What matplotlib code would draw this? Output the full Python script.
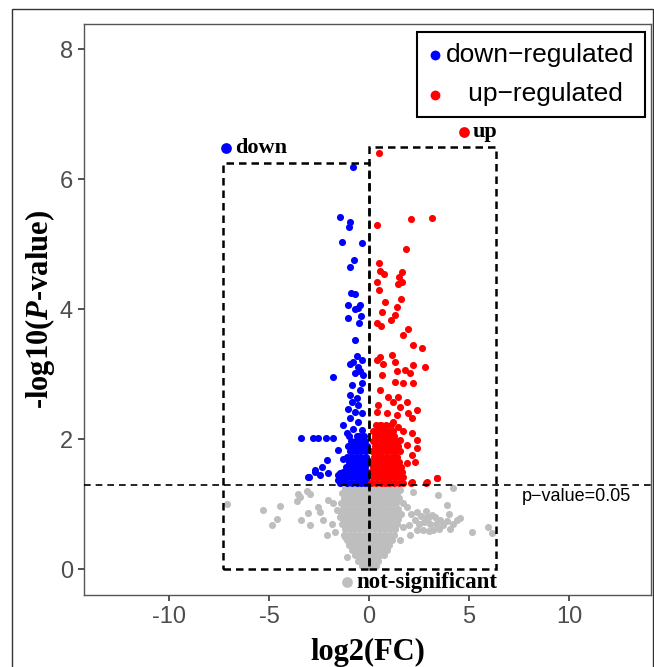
import numpy as np
import matplotlib
matplotlib.use('Agg')
import matplotlib.pyplot as plt
from matplotlib.patches import Rectangle

plt.rcParams['axes.unicode_minus'] = False
plt.rcParams['mathtext.fontset'] = 'custom'
plt.rcParams['mathtext.rm'] = 'Liberation Serif:bold'
plt.rcParams['mathtext.it'] = 'Liberation Serif:italic:bold'

# punti sparsi down-regulated (log2FC, -log10 p)
down_x = [-0.82, -1.43, -0.95, -1.00, -1.35, -0.33, -0.73, -0.93, -0.92, -0.70,
          -1.03, -0.45, -0.70, -0.53, -1.03, -0.42, -0.48, -0.68, -0.62, -0.78,
          -0.37, -0.95, -0.53, -0.45, -0.70, -0.28, -1.78, -0.87, -0.37, -0.45,
          -0.95, -0.62, -0.87, -0.53, -1.03, -0.70, -0.37, -1.28, -0.95, -0.53,
          -0.78, -0.37, -1.12, -0.62, -3.42, -2.82, -2.53, -2.15, -1.82, -1.53,
          -1.28, -2.12, -2.37, -2.70, -2.98, -1.45, -1.53, -3.03, -2.70, -2.03,
          -2.45, -1.53, -1.28]
down_y = [6.18, 5.42, 5.34, 5.26, 5.03, 5.01, 4.75, 4.64, 4.24, 4.23,
          4.07, 4.06, 4.00, 4.01, 3.86, 3.89, 3.78, 3.52, 3.28, 3.19,
          3.22, 3.16, 3.11, 3.04, 3.01, 2.98, 2.96, 2.83, 2.86, 2.75,
          2.68, 2.63, 2.57, 2.52, 2.47, 2.42, 2.40, 2.22, 2.32, 2.27,
          2.16, 2.14, 2.09, 2.04, 2.01, 2.01, 2.01, 2.01, 2.01, 1.83,
          1.70, 1.68, 1.57, 1.52, 1.42, 1.47, 1.37, 1.42, 1.50, 1.48,
          1.45, 1.45, 1.34]

# zona densa down-regulated: righe (y) con i relativi x
down_dense_y = [1.33, 1.41, 1.49, 1.57, 1.65, 1.73, 1.81, 1.89, 1.97, 2.05]
down_dense_x = [[-1.45, -1.10, -0.85, -0.62, -0.40, -0.18, -0.05],
                [-1.35, -1.18, -0.95, -0.72, -0.50, -0.28, -0.08],
                [-1.30, -1.05, -0.82, -0.60, -0.35, -0.12],
                [-1.15, -0.90, -0.68, -0.45, -0.20],
                [-1.00, -0.75, -0.52, -0.28, -0.06],
                [-1.10, -0.85, -0.60, -0.38, -0.15],
                [-0.95, -0.70, -0.47, -0.22],
                [-1.05, -0.80, -0.55, -0.30, -0.08],
                [-0.90, -0.65, -0.42, -0.18],
                [-1.00, -0.50, -0.25]]

# punti sparsi up-regulated
up_x = [0.48, 0.42, 2.12, 3.15, 1.85, 0.50, 0.55, 0.75, 1.63, 1.52,
        0.38, 0.52, 1.63, 1.47, 0.82, 1.58, 1.38, 1.30, 0.63, 0.38,
        0.58, 1.08, 1.97, 1.68, 0.55, 0.38, 1.13, 1.30, 2.22, 2.63,
        0.72, 1.38, 1.80, 2.22, 2.80, 0.63, 1.30, 2.05, 1.72, 2.22,
        0.55, 0.97, 1.47, 1.22, 0.47, 1.55, 1.88, 2.38, 0.38, 0.88,
        1.38, 1.97, 2.13, 0.55, 1.22, 1.47, 0.72, 1.72, 2.13, 0.38,
        1.05, 1.55, 2.38, 1.88, 1.30, 0.55, 2.38, 2.13, 2.30, 1.88,
        1.72, 2.13, 2.88, 3.38, 2.08, 2.85, 3.42]
up_y = [6.40, 5.30, 5.39, 5.40, 4.93, 4.71, 4.59, 4.54, 4.57, 4.49,
        4.42, 4.29, 4.42, 4.38, 4.11, 4.15, 4.03, 3.91, 3.96, 3.79,
        3.74, 3.83, 3.69, 3.60, 3.27, 3.22, 3.29, 3.19, 3.45, 3.40,
        3.16, 3.04, 3.06, 3.14, 3.11, 2.98, 2.88, 3.01, 2.86, 2.86,
        2.75, 2.65, 2.65, 2.57, 2.52, 2.50, 2.57, 2.45, 2.42, 2.40,
        2.37, 2.40, 2.32, 2.22, 2.27, 2.19, 2.14, 2.12, 2.09, 2.04,
        2.04, 1.98, 1.98, 1.91, 1.91, 1.91, 1.86, 1.75, 1.65, 1.63,
        1.42, 1.34, 1.34, 1.40, 1.33, 1.33, 1.40]

up_dense_y = [1.33, 1.41, 1.49, 1.57, 1.65, 1.73, 1.81, 1.89, 1.97, 2.05, 2.13, 2.21]
up_dense_x = [[0.12, 0.35, 0.58, 0.80, 1.02, 1.25, 1.48, 1.70],
              [0.20, 0.45, 0.68, 0.90, 1.12, 1.35, 1.58],
              [0.12, 0.32, 0.55, 0.78, 1.00, 1.22, 1.45, 1.65],
              [0.22, 0.45, 0.68, 0.92, 1.15, 1.38, 1.60],
              [0.15, 0.38, 0.60, 0.82, 1.05, 1.28, 1.50],
              [0.25, 0.48, 0.72, 0.95, 1.18, 1.42],
              [0.15, 0.40, 0.62, 0.85, 1.08, 1.32, 1.55],
              [0.28, 0.52, 0.75, 0.98, 1.20, 1.45],
              [0.18, 0.42, 0.65, 0.88, 1.12, 1.35],
              [0.30, 0.55, 0.78, 1.00, 1.25],
              [0.20, 0.45, 0.70, 0.95, 1.20],
              [0.35, 0.60, 0.85, 1.10]]

# non significativi sparsi
ns_x = [-7.12, -5.32, -4.45, -4.87, -4.58, -3.62, -3.45, -3.12, -2.95, -3.53,
        -3.40, -3.03, -2.95, -2.53, -2.45, -2.28, -2.12, -1.87, -1.70, -2.03,
        -1.78, -1.62, -1.45, -1.12, -1.20,
        1.55, 2.22, 1.72, 2.38, 2.88, 3.05, 3.55, 3.22, 3.88, 4.22,
        3.47, 4.38, 4.55, 4.22, 5.13, 5.97, 6.13, 1.72, 2.05, 2.38,
        1.55, 2.60, 2.75, 2.95, 3.15, 3.35, 3.50, 3.70, 3.90, 4.05,
        2.70, 3.00, 3.30, 2.50, 4.00, 2.85, 2.30, 2.10, 1.90, 2.00]
ns_y = [1.00, 0.91, 0.97, 0.68, 0.77, 1.04, 1.11, 1.20, 1.16, 1.16,
        0.75, 0.86, 0.68, 0.96, 0.88, 0.75, 0.52, 0.70, 0.57, 1.06,
        1.01, 0.91, 0.80, 0.19, 0.50,
        1.22, 1.19, 1.01, 0.88, 0.80, 0.70, 0.75, 0.60, 0.98, 1.24,
        1.14, 0.75, 0.78, 0.70, 0.57, 0.65, 0.55, 0.65, 0.52, 0.60,
        0.45, 0.82, 0.72, 0.78, 0.83, 0.70, 0.62, 0.68, 0.74, 0.62,
        0.60, 0.58, 0.80, 0.70, 0.85, 0.90, 0.75, 0.85, 0.95, 0.68]

# nucleo denso dei non significativi
ns_core_y = [1.25, 1.17, 1.09, 1.01, 0.93, 0.85, 0.77, 0.69,
             0.61, 0.53, 0.45, 0.37, 0.29, 0.21, 0.13, 0.05]
ns_core_x = [[-1.20, -0.95, -0.70, -0.45, -0.20, 0.05, 0.30, 0.55, 0.80, 1.05, 1.30],
             [-1.35, -1.10, -0.85, -0.60, -0.35, -0.10, 0.15, 0.40, 0.65, 0.90, 1.15, 1.40],
             [-1.25, -1.00, -0.75, -0.50, -0.25, 0.00, 0.25, 0.50, 0.75, 1.00, 1.25, 1.50],
             [-1.40, -1.15, -0.90, -0.65, -0.40, -0.15, 0.10, 0.35, 0.60, 0.85, 1.10, 1.35],
             [-1.30, -1.05, -0.80, -0.55, -0.30, -0.05, 0.20, 0.45, 0.70, 0.95, 1.20, 1.45],
             [-1.40, -1.15, -0.90, -0.65, -0.40, -0.15, 0.10, 0.35, 0.60, 0.85, 1.10, 1.35, 1.60],
             [-1.30, -1.05, -0.80, -0.55, -0.30, -0.05, 0.20, 0.45, 0.70, 0.95, 1.20, 1.45],
             [-1.35, -1.10, -0.85, -0.60, -0.35, -0.10, 0.15, 0.40, 0.65, 0.90, 1.15, 1.40],
             [-1.20, -0.95, -0.70, -0.45, -0.20, 0.05, 0.30, 0.55, 0.80, 1.05, 1.30],
             [-1.25, -1.00, -0.75, -0.50, -0.25, 0.00, 0.25, 0.50, 0.75, 1.00, 1.25],
             [-1.10, -0.85, -0.60, -0.35, -0.10, 0.15, 0.40, 0.65, 0.90, 1.15],
             [-1.00, -0.75, -0.50, -0.25, 0.00, 0.25, 0.50, 0.75, 1.00],
             [-0.85, -0.60, -0.35, -0.10, 0.15, 0.40, 0.65, 0.90],
             [-0.70, -0.45, -0.20, 0.05, 0.30, 0.55, 0.75],
             [-0.55, -0.30, -0.05, 0.20, 0.45],
             [-0.35, -0.10, 0.15, 0.35]]

# punti etichetta
label_names = ['down', 'up', 'not-significant']
label_x = [-7.15, 4.75, -1.10]
label_y = [6.48, 6.72, -0.20]

# riquadri tratteggiati (x0, x1, ytop)
box_down = (-7.30, 0.0, 6.25)
box_up = (0.0, 6.35, 6.49)
p_cut = 1.30

xticks = [-10, -5, 0, 5, 10]
yticks = [0, 2, 4, 6, 8]

c_down = '#0000FF'
c_up = '#FF0000'
c_ns = '#BEBEBE'


def flatten(rows_y, rows_x):
    xs, ys = [], []
    for y, row in zip(rows_y, rows_x):
        xs.extend(row)
        ys.extend([y] * len(row))
    return xs, ys


fig = plt.figure(figsize=(6.54, 6.67), dpi=100)
fig.patches.append(Rectangle((0.018, -0.01), 0.98, 0.9965, transform=fig.transFigure,
                             fill=False, edgecolor='#333333', lw=1.0))
ax = fig.add_axes([0.1284, 0.1079, 0.867, 0.856])

s_pt = 26
cx, cy = flatten(ns_core_y, ns_core_x)
ax.scatter(cx, cy, s=s_pt, color=c_ns, lw=0, zorder=2)
ax.scatter(ns_x, ns_y, s=s_pt, color=c_ns, lw=0, zorder=2)

dx, dy = flatten(down_dense_y, down_dense_x)
ax.scatter(dx, dy, s=s_pt, color=c_down, lw=0, zorder=3)
ax.scatter(down_x, down_y, s=s_pt, color=c_down, lw=0, zorder=3)

ux, uy = flatten(up_dense_y, up_dense_x)
ax.scatter(ux, uy, s=s_pt, color=c_up, lw=0, zorder=3)
ax.scatter(up_x, up_y, s=s_pt, color=c_up, lw=0, zorder=3)

# linea soglia
ax.axhline(p_cut, color='black', lw=1.2, dashes=(4, 3), zorder=4)
ax.text(7.65, 1.12, 'p\u2212value=0.05', fontsize=13, family='Liberation Sans',
        ha='left', va='center', zorder=5)

# riquadri
for x0, x1, ytop in [box_down, box_up]:
    ax.add_patch(Rectangle((x0, 0), x1 - x0, ytop, fill=False, edgecolor='black',
                           lw=1.8, ls=(0, (3, 2)), zorder=4))

# etichette
label_cols = [c_down, c_up, c_ns]
label_fs = [16, 16, 16.5]
for name, lx, ly, col, fs in zip(label_names, label_x, label_y, label_cols, label_fs):
    ax.scatter([lx], [ly], s=60, color=col, lw=0, zorder=5)
    ax.text(lx + 0.45, ly, name, fontsize=fs, family='Liberation Serif',
            fontweight='bold', ha='left', va='center', zorder=5)

# legenda
h1 = ax.scatter([], [], s=50, color=c_down, lw=0)
h2 = ax.scatter([], [], s=50, color=c_up, lw=0)
leg = ax.legend([h1, h2], ['down\u2212regulated', '   up\u2212regulated'],
                loc='upper right', bbox_to_anchor=(0.989, 0.986), borderaxespad=0,
                prop={'family': 'Liberation Sans', 'size': 19}, frameon=True,
                fancybox=False, edgecolor='black', framealpha=1,
                handletextpad=0.1, handlelength=0.6, borderpad=0.4,
                labelspacing=0.6)
leg.get_frame().set_linewidth(1.5)
leg.set_zorder(6)

ax.set_xlim(-14.25, 14.1)
ax.set_ylim(-0.4, 8.385)
ax.set_xticks(xticks)
ax.set_yticks(yticks)
ax.set_xticklabels([str(t) for t in xticks])
ax.set_yticklabels([str(t) for t in yticks])
ax.tick_params(axis='both', length=4, width=1.2, color='#333333',
               labelcolor='#4D4D4D', labelsize=17, pad=4)
for lab in ax.get_xticklabels() + ax.get_yticklabels():
    lab.set_family('Liberation Sans')
for sp in ax.spines.values():
    sp.set_color('#555555')
    sp.set_linewidth(1.0)

ax.set_xlabel('log2(FC)', fontsize=22, family='Liberation Serif', fontweight='bold',
              labelpad=7)
ax.set_ylabel('-log10($\\mathit{P}$-value)', fontsize=22, family='Liberation Serif',
              fontweight='bold', labelpad=2)

fig.savefig('out.png', dpi=100)
